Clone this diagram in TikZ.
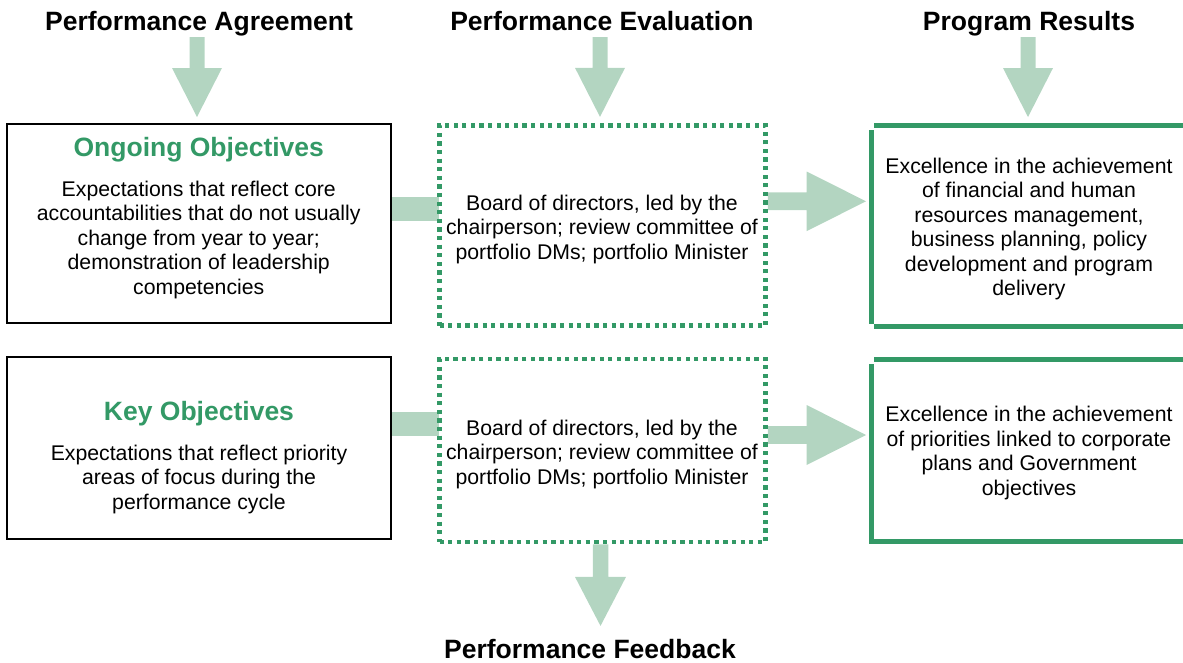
\documentclass[tikz,border=0pt]{standalone}
\usepackage{fontspec}
\setmainfont{Liberation Sans}
\usetikzlibrary{calc,backgrounds}
\definecolor{frameg}{RGB}{51,153,102}
\definecolor{arrowg}{RGB}{179,213,193}

% block arrow pointing down: start, tip, shaft half width, head half width, head length
\newcommand\fatdown[5]{%
  \fill[arrowfill] let \p1=#1, \p2=#2 in
    (\x1-#3,\y1) -- (\x1+#3,\y1) -- (\x1+#3,\y2+#5) -- (\x1+#4,\y2+#5) --
    (\x1,\y2) -- (\x1-#4,\y2+#5) -- (\x1-#3,\y2+#5) -- cycle;}
% block arrow pointing right: start, tip, shaft half width, head half width, head length
\newcommand\fatright[5]{%
  \fill[arrowfill] let \p1=#1, \p2=#2 in
    (\x1,\y1+#3) -- (\x2-#5,\y1+#3) -- (\x2-#5,\y1+#4) -- (\x2,\y1) --
    (\x2-#5,\y1-#4) -- (\x2-#5,\y1-#3) -- (\x1,\y1-#3) -- cycle;}

\begin{document}
\begin{tikzpicture}[x=1pt,y=-1pt,
  title/.style={font=\fontsize{26.5pt}{30pt}\selectfont\bfseries, inner sep=0pt, anchor=base},
  heading/.style={title, text=frameg},
  body/.style={font=\fontsize{21.25pt}{24.5pt}\selectfont, align=center, inner sep=0pt, anchor=base},
  objbox/.style={draw=black, line width=2pt, minimum width=383.5pt, inner sep=0pt},
  evalbox/.style={draw=frameg, line width=4.8pt, dash pattern=on 4.2pt off 4.4pt, minimum width=326pt, inner sep=0pt},
  resbox/.style={minimum width=316pt, inner sep=0pt, outer sep=0pt},
  resline/.style={draw=frameg, line width=5pt},
  arrowfill/.style={fill=arrowg}
]
\useasboundingbox (0,0) rectangle (1183,662);

% column titles
\node[title] (t1) at (199,30) {Performance Agreement};
\node[title] (t2) at (602,30) {Performance Evaluation};
\node[title] (t3) at (1029,30) {Program Results};
\node[title] (fb) at (590,658) {Performance Feedback};

% first row
\node[objbox, minimum height=199.4pt] (l1) at (198.75,223.5) {};
\node[evalbox, minimum height=200.5pt] (d1) at (602.5,225.5) {};
\node[resbox, minimum height=201.5pt] (r1) at (1029,225.75) {};
% second row
\node[objbox, minimum height=182.3pt] (l2) at (198.75,448.3) {};
\node[evalbox, minimum height=183pt] (d2) at (602.5,450.5) {};
\node[resbox, minimum height=182pt] (r2) at (1029,450.5) {};

% box texts (a multi-line node sits on the baseline of its last line)
\node[heading] (l1h) at (198.75,156) {Ongoing Objectives};
\node[body] (l1t) at (198.75,294) {Expectations that reflect core\\accountabilities that do not usually\\change from year to year;\\demonstration of leadership\\competencies};
\node[heading] (l2h) at (199,420) {Key Objectives};
\node[body] (l2t) at (199,509) {Expectations that reflect priority\\areas of focus during the\\performance cycle};
\node[body] (d1t) at (602,259) {Board of directors, led by the\\chairperson; review committee of\\portfolio DMs; portfolio Minister};
\node[body] (d2t) at (602,484) {Board of directors, led by the\\chairperson; review committee of\\portfolio DMs; portfolio Minister};
\node[body] (r1t) at (1029,295.8) {Excellence in the achievement\\of financial and human\\resources management,\\business planning, policy\\development and program\\delivery};
\node[body] (r2t) at (1029,495.2) {Excellence in the achievement\\of priorities linked to corporate\\plans and Government\\objectives};

% result frames, open to the right
\draw[resline] ([xshift=3pt]r1.north west) -- (r1.north east);
\draw[resline] ([xshift=3pt]r1.south west) -- (r1.south east);
\draw[resline] ([yshift=-5pt]r1.north west) -- ([yshift=3pt]r1.south west);
\draw[resline] ([xshift=3pt]r2.north west) -- (r2.north east);
\draw[resline] ([xshift=3pt]r2.south west) -- (r2.south east);
\draw[resline] ([yshift=-4.5pt]r2.north west) -- ([yshift=-2.5pt]r2.south west);

\begin{pgfonlayer}{background}
  % titles into the columns
  \fatdown{($(t1.base)+(-2,7)$)}{($(l1.north)+(0,-5.8)$)}{7.5pt}{25pt}{49pt}
  \fatdown{($(t2.base)+(-2,7)$)}{($(d1.north)+(0,-6)$)}{7.5pt}{25pt}{49pt}
  \fatdown{($(t3.base)+(-1,7)$)}{($(r1.north)+(0,-8)$)}{7.5pt}{25pt}{49pt}
  % objectives into evaluation
  \fill[arrowfill] let \p1=([yshift=14.8pt]l1.east), \p2=(d1.west) in
    (\x1,\y1+12pt) rectangle (\x2+1.5pt,\y1-12pt);
  \fill[arrowfill] let \p1=([yshift=24.5pt]l2.east), \p2=(d2.west) in
    (\x1,\y1+12pt) rectangle (\x2+1.5pt,\y1-12pt);
  % evaluation into results
  \fatright{([yshift=24.2pt]d1.east)}{([xshift=-5pt]r1.west)}{8.85pt}{29.8pt}{59.3pt}
  \fatright{([yshift=15.5pt]d2.east)}{([xshift=-5pt]r2.west)}{8.85pt}{30pt}{59.3pt}
  % evaluation into feedback
  \fatdown{([xshift=-2pt]d2.south)}{($(fb.north)+(0,-12.7)$)}{7.75pt}{25.5pt}{49pt}
\end{pgfonlayer}
\end{tikzpicture}
\end{document}
